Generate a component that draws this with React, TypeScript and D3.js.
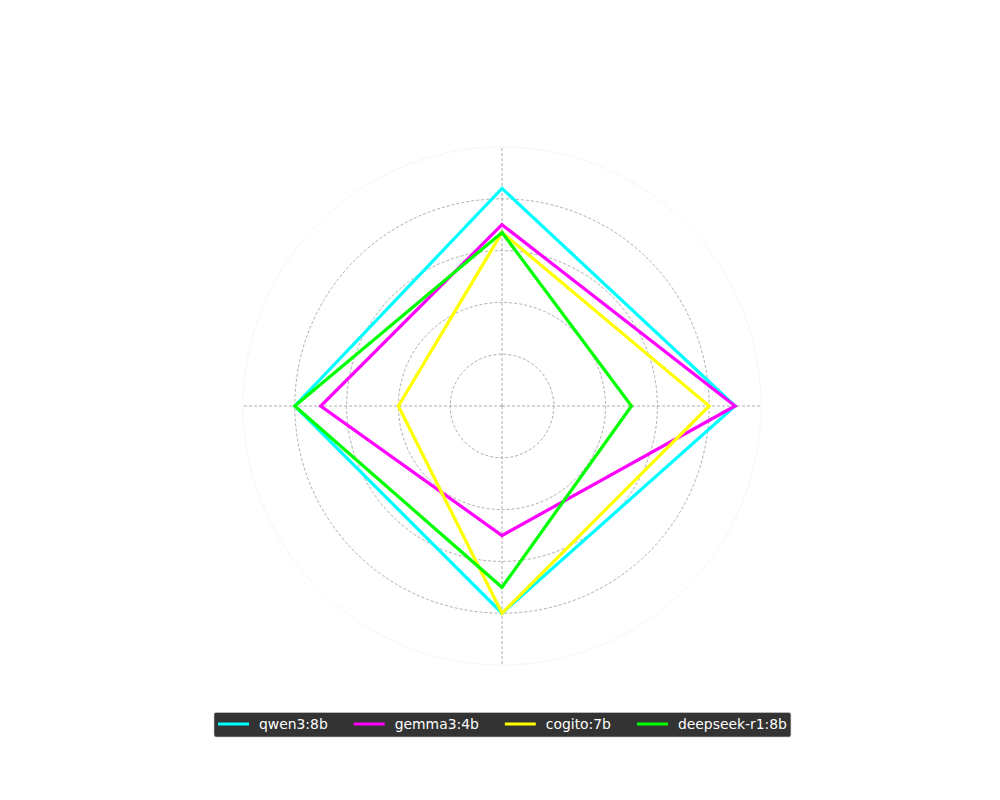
import React, { useEffect, useRef } from 'react';
import * as d3 from 'd3';

// four axes, no labels shown on the chart
const categories: string[] = ['axis 1', 'axis 2', 'axis 3', 'axis 4'];
const models: string[] = ['qwen3:8b', 'gemma3:4b', 'cogito:7b', 'deepseek-r1:8b'];
const colors: string[] = ['#00ffff', '#ff00ff', '#ffff00', '#00ff00'];

// values in order: top, right, bottom, left
const qwen: number[] = [4.2, 4.5, 4.0, 4.0];
const gemma: number[] = [3.5, 4.5, 2.5, 3.5];
const cogito: number[] = [3.35, 4.0, 4.0, 2.0];
const deepseek: number[] = [3.35, 2.5, 3.5, 4.0];

const ringTicks: number[] = [1, 2, 3, 4];
const maxValue: number = 5;

const width: number = 1000;
const height: number = 800;
const cx: number = 502;
const cy: number = 406;
const radius: number = 259;

const App = () => {
  const ref = useRef<SVGSVGElement>(null);

  useEffect(() => {
    const svg: any = d3.select(ref.current);
    svg.selectAll('*').remove();

    const series: number[][] = [qwen, gemma, cogito, deepseek];
    const rScale: any = d3.scaleLinear().domain([0, maxValue]).range([0, radius]);
    const angle: any = d3.scaleLinear().domain([0, categories.length]).range([0, 2 * Math.PI]);

    const g: any = svg.append('g').attr('transform', `translate(${cx},${cy})`);

    // outer spine
    g.append('circle')
      .attr('r', rScale(maxValue))
      .attr('fill', 'none')
      .attr('stroke', '#d8d8d8')
      .attr('stroke-width', 0.8)
      .attr('stroke-dasharray', '1,2');

    // grid rings
    g.selectAll('.ring')
      .data(ringTicks)
      .enter()
      .append('circle')
      .attr('class', 'ring')
      .attr('r', (d: number) => rScale(d))
      .attr('fill', 'none')
      .attr('stroke', '#999')
      .attr('stroke-width', 0.8)
      .attr('stroke-dasharray', '3,2');

    // spokes
    g.selectAll('.spoke')
      .data(categories)
      .enter()
      .append('line')
      .attr('class', 'spoke')
      .attr('x1', 0)
      .attr('y1', 0)
      .attr('x2', (d: string, i: number) => rScale(maxValue) * Math.sin(angle(i)))
      .attr('y2', (d: string, i: number) => -rScale(maxValue) * Math.cos(angle(i)))
      .attr('stroke', '#999')
      .attr('stroke-width', 0.8)
      .attr('stroke-dasharray', '3,2');

    const line: any = d3.lineRadial<number>()
      .angle((d: number, i: number) => angle(i))
      .radius((d: number) => rScale(d))
      .curve(d3.curveLinearClosed);

    g.selectAll('.series')
      .data(series)
      .enter()
      .append('path')
      .attr('class', 'series')
      .attr('d', (d: number[]) => line(d))
      .attr('fill', 'none')
      .attr('stroke', (d: number[], i: number) => colors[i])
      .attr('stroke-width', 3.2)
      .attr('stroke-linejoin', 'miter');

    // legend, one row
    const legend: any = svg.append('g');
    const bg: any = legend.append('rect')
      .attr('fill', '#333333')
      .attr('stroke', '#cccccc')
      .attr('stroke-width', 0.6)
      .attr('rx', 2);

    const handle: number = 31;
    const textGap: number = 10;
    const colGap: number = 26;
    const pad: number = 4;
    let x: number = 0;
    const items: any[] = [];
    models.forEach((name: string, i: number) => {
      const item: any = legend.append('g');
      item.append('line')
        .attr('x1', 0).attr('x2', handle)
        .attr('y1', 0).attr('y2', 0)
        .attr('stroke', colors[i])
        .attr('stroke-width', 3);
      const t: any = item.append('text')
        .attr('x', handle + textGap)
        .attr('y', 4.8)
        .attr('fill', '#ffffff')
        .style('font-family', 'DejaVu Sans')
        .style('font-size', '13.9px')
        .text(name);
      const w: number = (t.node() as SVGTextElement).getComputedTextLength();
      items.push({ item, x });
      x += handle + textGap + w + colGap;
    });
    const total: number = x - colGap;
    const left: number = 218;
    const rowY: number = 724;
    items.forEach((d: any) => d.item.attr('transform', `translate(${left + d.x},${rowY})`));
    bg.attr('x', left - pad)
      .attr('y', 712.5)
      .attr('width', total + 2 * pad)
      .attr('height', 24.5);
  }, []);

  return (
    <div>
      <style>{'body{margin:0}'}</style>
      <svg ref={ref} width={width} height={height} style={{ display: 'block', background: '#ffffff' }} />
    </div>
  );
};

export default App;
